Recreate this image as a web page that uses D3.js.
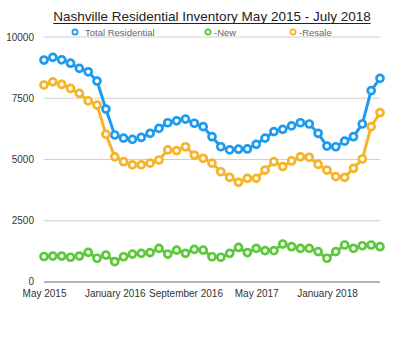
<!DOCTYPE html>
<html>
<head>
<meta charset="utf-8">
<script src="https://cdn.jsdelivr.net/npm/d3@7"></script>
<style>
  html, body { margin: 0; padding: 0; background: #fff; }
  svg { display: block; font-family: "Liberation Sans", Arial, Helvetica, sans-serif; }
</style>
</head>
<body>
<svg id="chart" width="400" height="356"></svg>
<script>
// ---- Data (monthly, May 2015 .. July 2018) ----
const months = ["May 2015","Jun 2015","Jul 2015","Aug 2015","Sep 2015","Oct 2015","Nov 2015","Dec 2015",
  "January 2016","Feb 2016","Mar 2016","Apr 2016","May 2016","Jun 2016","Jul 2016","Aug 2016",
  "September 2016","Oct 2016","Nov 2016","Dec 2016","Jan 2017","Feb 2017","Mar 2017","Apr 2017",
  "May 2017","Jun 2017","Jul 2017","Aug 2017","Sep 2017","Oct 2017","Nov 2017","Dec 2017",
  "January 2018","Feb 2018","Mar 2018","Apr 2018","May 2018","Jun 2018","Jul 2018"];

const totalResidential = [9060,9170,9070,8930,8720,8580,8200,7060,6000,5870,5820,5900,6070,6270,6500,6580,6650,6480,6340,5930,5520,5390,5420,5430,5620,5870,6140,6230,6370,6500,6450,6070,5550,5520,5750,5930,6450,7810,8310];
const newHomes = [1040,1060,1060,1010,1060,1210,970,1100,830,1030,1140,1170,1200,1370,1140,1300,1170,1330,1300,1030,1010,1170,1410,1200,1370,1280,1280,1550,1440,1370,1370,1240,970,1240,1510,1370,1480,1510,1440];
const resale = [8040,8170,8070,7900,7700,7390,7220,6030,5110,4910,4780,4780,4850,4980,5390,5360,5520,5180,5050,4850,4500,4270,4070,4230,4230,4570,4910,4710,4940,5110,5090,4800,4570,4300,4270,4640,5020,6340,6910];

const seriesNames = ["Total Residential", "-New", "-Resale"];
const seriesColors = ["#1f9bee", "#5cc93c", "#f5b42a"];
const yTicks = [0, 2500, 5000, 7500, 10000];
const xTickIdx = [0, 8, 16, 24, 32];
const title = "Nashville Residential Inventory May 2015 - July 2018";

// ---- Chart ----
const svg = d3.select("#chart");
const x = d3.scaleLinear().domain([0, months.length - 1]).range([44, 380]);
const y = d3.scaleLinear().domain([0, 10000]).range([282, 37]);

// gridlines
svg.append("g").selectAll("line").data(yTicks).join("line")
  .attr("x1", 44).attr("x2", 380)
  .attr("y1", d => y(d)).attr("y2", d => y(d))
  .attr("stroke", d => d === 0 ? "#9a9a9a" : "#cfcfcf")
  .attr("stroke-width", d => d === 0 ? 1.5 : 1);

// y axis labels
const yAxis = d3.axisLeft(y).tickValues(yTicks).tickSize(0).tickPadding(0).tickFormat(d3.format("d"));
const yg = svg.append("g").attr("transform", "translate(34,0)").call(yAxis);
yg.select(".domain").remove();
yg.selectAll("text").attr("font-size", 10).attr("fill", "#333").attr("font-family", "Liberation Sans, Arial, sans-serif");
yg.selectAll("text").filter(d => d === 0).attr("dy", "0.2em");

// x axis labels
const xAxis = d3.axisBottom(x).tickValues(xTickIdx).tickSize(0).tickPadding(0).tickFormat(i => months[i]);
const xg = svg.append("g").attr("transform", "translate(0,290)").call(xAxis);
xg.select(".domain").remove();
xg.selectAll("text").attr("font-size", 10).attr("fill", "#333").attr("font-family", "Liberation Sans, Arial, sans-serif");

// series
const allSeries = [totalResidential, newHomes, resale];
const line = d3.line().x((d, i) => x(i)).y(d => y(d));
allSeries.forEach((vals, s) => {
  const g = svg.append("g");
  g.append("path").datum(vals).attr("d", line)
    .attr("fill", "none").attr("stroke", seriesColors[s]).attr("stroke-width", 3)
    .attr("stroke-linejoin", "round");
  g.selectAll("circle").data(vals).join("circle")
    .attr("cx", (d, i) => x(i)).attr("cy", d => y(d)).attr("r", 3.5)
    .attr("fill", "#fff").attr("stroke", seriesColors[s]).attr("stroke-width", 2.7);
});

// title
const t = svg.append("text").attr("x", 212).attr("y", 21).attr("text-anchor", "middle")
  .attr("font-size", 13.5).attr("fill", "#222").text(title);
const bb = t.node().getBBox();
svg.append("line").attr("x1", bb.x).attr("x2", bb.x + bb.width)
  .attr("y1", 23.5).attr("y2", 23.5).attr("stroke", "#222").attr("stroke-width", 1);

// legend
const legendX = [75, 208, 293];
const lg = svg.append("g").selectAll("g").data(seriesNames).join("g")
  .attr("transform", (d, i) => `translate(${legendX[i]},32)`);
lg.append("circle").attr("r", 2.6).attr("fill", "#fff")
  .attr("stroke", (d, i) => seriesColors[i]).attr("stroke-width", 1.8);
lg.append("text").attr("x", (d, i) => i === 0 ? 10 : 6).attr("y", 3.5)
  .attr("font-size", 9.5).attr("fill", "#666").text(d => d);
</script>
</body>
</html>
